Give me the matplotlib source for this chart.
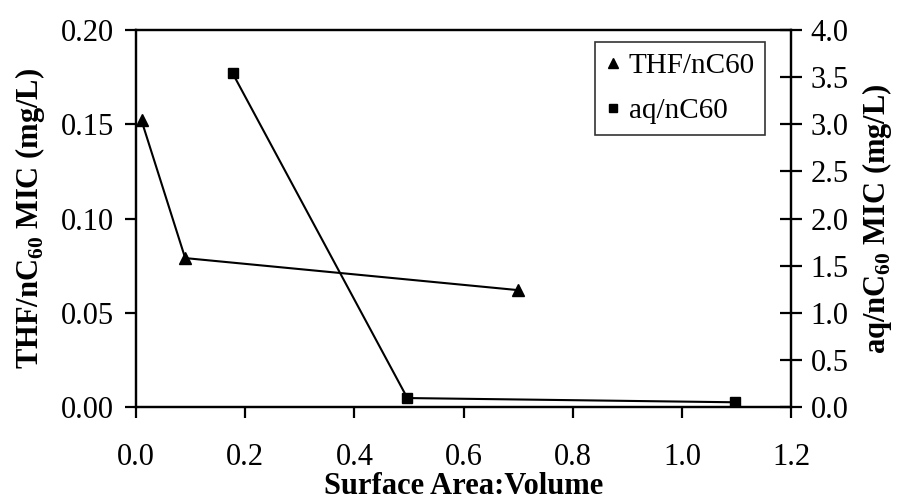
import matplotlib
matplotlib.use("Agg")
import matplotlib.pyplot as plt
from matplotlib.lines import Line2D

plt.rcParams['font.family'] = ['Liberation Serif', 'DejaVu Serif']
plt.rcParams['mathtext.fontset'] = 'custom'
plt.rcParams['mathtext.rm'] = 'Liberation Serif'
plt.rcParams['mathtext.bf'] = 'Liberation Serif:bold'

thf_x = [0.01, 0.09, 0.70]
thf_y = [0.152, 0.079, 0.062]
aq_x = [0.177, 0.497, 1.098]
aq_y = [3.54, 0.095, 0.05]

x_ticks = [0.0, 0.2, 0.4, 0.6, 0.8, 1.0, 1.2]
left_ticks = [0.00, 0.05, 0.10, 0.15, 0.20]
right_ticks = [0.0, 0.5, 1.0, 1.5, 2.0, 2.5, 3.0, 3.5, 4.0]

FS = 22

fig = plt.figure(figsize=(9.01, 5.0), dpi=100)
ax = fig.add_axes([0.151, 0.186, 0.727, 0.754])
ax2 = ax.twinx()

ax.plot(thf_x, thf_y, color='black', lw=1.5, marker='^', ms=8, zorder=3)
ax2.plot(aq_x, aq_y, color='black', lw=1.5, marker='s', ms=7, zorder=3)

ax.set_xlim(0, 1.2)
ax.set_ylim(0, 0.20)
ax2.set_ylim(0, 4.0)
ax.set_xticks(x_ticks)
ax.set_xticklabels([f"{v:.1f}" for v in x_ticks])
ax.set_yticks(left_ticks)
ax.set_yticklabels([f"{v:.2f}" for v in left_ticks])
ax2.set_yticks(right_ticks)
ax2.set_yticklabels([f"{v:.1f}" for v in right_ticks])

for a in (ax, ax2):
    for s in a.spines.values():
        s.set_linewidth(1.6)
ax.tick_params(axis='x', direction='out', length=8, width=1.6, labelsize=FS, pad=18)
ax.tick_params(axis='y', direction='out', length=8, width=1.6, labelsize=FS, pad=8)
ax2.tick_params(axis='y', direction='inout', length=16, width=1.6, labelsize=FS, pad=6)

ax.set_xlabel('Surface Area:Volume', fontsize=FS, fontweight='bold', labelpad=0)
ax.set_ylabel(r'THF/nC$_{\mathbf{60}}$ MIC (mg/L)', fontsize=FS, fontweight='bold', labelpad=10)
ax2.set_ylabel(r'aq/nC$_{\mathbf{60}}$ MIC (mg/L)', fontsize=FS, fontweight='bold', labelpad=8)

handles = [Line2D([], [], color='black', marker='^', ls='none', ms=7),
           Line2D([], [], color='black', marker='s', ls='none', ms=6)]
leg = ax2.legend(handles, ['THF/nC60', 'aq/nC60'], loc='upper right',
                 bbox_to_anchor=(0.96, 0.967), fontsize=21, frameon=True,
                 fancybox=False, edgecolor='black', handlelength=0.5,
                 handletextpad=0.3, borderpad=0.35, labelspacing=0.65,
                 borderaxespad=0)
leg.get_frame().set_linewidth(1.2)

fig.savefig('out.png', dpi=100)
